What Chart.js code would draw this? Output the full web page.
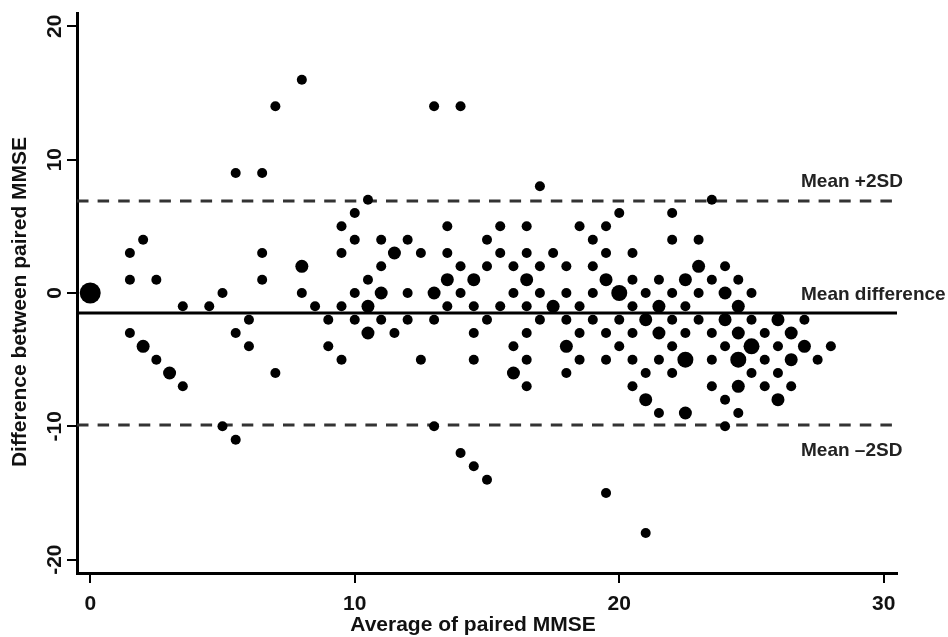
<!DOCTYPE html>
<html>
<head>
<meta charset="utf-8">
<title>Bland-Altman MMSE</title>
<script src="https://cdn.jsdelivr.net/npm/chart.js@4"></script>
<style>
  html, body { margin: 0; padding: 0; background: #fff; }
  #wrap { width: 948px; height: 637px; }
</style>
</head>
<body>
<div id="wrap"><canvas id="chart" width="948" height="637"></canvas></div>
<script>
// average of the paired MMSE scores (x)
const avg = [
  0,
  1.5, 1.5, 1.5,
  2, 2,
  2.5, 2.5,
  3,
  3.5, 3.5,
  4.5,
  5, 5,
  5.5, 5.5, 5.5,
  6, 6,
  6.5, 6.5, 6.5,
  7, 7,
  8, 8, 8,
  8.5,
  9, 9,
  9.5, 9.5, 9.5, 9.5,
  10, 10, 10, 10,
  10.5, 10.5, 10.5, 10.5,
  11, 11, 11, 11,
  11.5, 11.5,
  12, 12, 12,
  12.5, 12.5,
  13, 13, 13, 13,
  13.5, 13.5, 13.5, 13.5,
  14, 14, 14, 14,
  14.5, 14.5, 14.5, 14.5, 14.5,
  15, 15, 15, 15,
  15.5, 15.5, 15.5,
  16, 16, 16, 16,
  16.5, 16.5, 16.5, 16.5, 16.5, 16.5, 16.5,
  17, 17, 17, 17,
  17.5, 17.5,
  18, 18, 18, 18, 18,
  18.5, 18.5, 18.5, 18.5,
  19, 19, 19, 19,
  19.5, 19.5, 19.5, 19.5, 19.5, 19.5,
  20, 20, 20, 20,
  20.5, 20.5, 20.5, 20.5, 20.5, 20.5,
  21, 21, 21, 21, 21,
  21.5, 21.5, 21.5, 21.5, 21.5,
  22, 22, 22, 22, 22, 22,
  22.5, 22.5, 22.5, 22.5, 22.5,
  23, 23, 23, 23,
  23.5, 23.5, 23.5, 23.5, 23.5,
  24, 24, 24, 24, 24, 24,
  24.5, 24.5, 24.5, 24.5, 24.5, 24.5,
  25, 25, 25, 25,
  25.5, 25.5, 25.5,
  26, 26, 26, 26,
  26.5, 26.5, 26.5,
  27, 27,
  27.5,
  28
];

// difference between the paired scores (y), same order as avg
const diff = [
  0,
  3, 1, -3,
  4, -4,
  1, -5,
  -6,
  -1, -7,
  -1,
  0, -10,
  9, -3, -11,
  -2, -4,
  9, 3, 1,
  14, -6,
  16, 2, 0,
  -1,
  -2, -4,
  5, 3, -1, -5,
  6, 4, 0, -2,
  7, 1, -1, -3,
  4, 2, 0, -2,
  3, -3,
  4, 0, -2,
  3, -5,
  14, 0, -2, -10,
  5, 3, 1, -1,
  14, 2, 0, -12,
  1, -1, -3, -5, -13,
  4, 2, -2, -14,
  5, 3, -1,
  2, 0, -4, -6,
  5, 3, 1, -1, -3, -5, -7,
  8, 2, 0, -2,
  3, -1,
  2, 0, -2, -4, -6,
  5, -1, -3, -5,
  4, 2, 0, -2,
  5, 3, 1, -3, -5, -15,
  6, 0, -2, -4,
  3, 1, -1, -3, -5, -7,
  0, -2, -6, -8, -18,
  1, -1, -3, -5, -9,
  6, 4, 0, -2, -4, -6,
  1, -1, -3, -5, -9,
  4, 2, 0, -2,
  7, 1, -3, -5, -7,
  2, 0, -2, -4, -8, -10,
  1, -1, -3, -5, -7, -9,
  0, -2, -4, -6,
  -3, -5, -7,
  -2, -4, -6, -8,
  -3, -5, -7,
  -2, -4,
  -5,
  -4
];

// number of pairs sharing each point (drawn as marker size)
const count = [
  5,
  1, 1, 1,
  1, 2,
  1, 1,
  2,
  1, 1,
  1,
  1, 1,
  1, 1, 1,
  1, 1,
  1, 1, 1,
  1, 1,
  1, 2, 1,
  1,
  1, 1,
  1, 1, 1, 1,
  1, 1, 1, 1,
  1, 1, 2, 2,
  1, 1, 2, 1,
  2, 1,
  1, 1, 1,
  1, 1,
  1, 2, 1, 1,
  1, 1, 2, 1,
  1, 1, 1, 1,
  2, 1, 1, 1, 1,
  1, 1, 1, 1,
  1, 1, 1,
  1, 1, 1, 2,
  1, 1, 2, 1, 1, 1, 1,
  1, 1, 1, 1,
  1, 2,
  1, 1, 1, 2, 1,
  1, 1, 1, 1,
  1, 1, 1, 1,
  1, 1, 2, 1, 1, 1,
  1, 3, 1, 1,
  1, 1, 1, 1, 1, 1,
  1, 2, 1, 2, 1,
  1, 2, 2, 1, 1,
  1, 1, 1, 1, 1, 1,
  2, 1, 1, 3, 2,
  1, 2, 1, 1,
  1, 1, 1, 1, 1,
  1, 2, 2, 1, 1, 1,
  1, 2, 2, 3, 2, 1,
  1, 1, 3, 1,
  1, 1, 1,
  2, 1, 1, 2,
  2, 2, 1,
  1, 2,
  1,
  1
];

const meanDiff = -1.5;
const upperLimit = 6.9;
const lowerLimit = -9.9;
const limitLabels = ["Mean +2SD", "Mean difference", "Mean \u20132SD"];

const xTicks = [0, 10, 20, 30];
const yTicks = [-20, -10, 0, 10, 20];
const xMin = -0.5, xMax = 30.5;
const yMin = -21, yMax = 21;
const xTitle = "Average of paired MMSE";
const yTitle = "Difference between paired MMSE";

const FONT = "'Liberation Sans', Arial, Helvetica, sans-serif";

const points = avg.map((x, i) => ({ x: x, y: diff[i], n: count[i] }));

function hline(value) {
  return [{ x: xMin, y: value }, { x: xMax, y: value }];
}

function radiusFor(n) {
  if (n >= 5) return 10.5;
  if (n >= 3) return 8;
  if (n >= 2) return 6.5;
  return 5;
}

// labels beside the mean / limit lines, plus the two axis titles
const extraText = {
  id: "extraText",
  afterDraw(chart) {
    const { ctx, scales } = chart;
    const y = scales.y;
    const left = 801;
    ctx.save();
    ctx.font = "bold 19px " + FONT;
    ctx.fillStyle = "#222";
    ctx.textAlign = "left";
    ctx.textBaseline = "alphabetic";
    ctx.fillText(limitLabels[0], left, y.getPixelForValue(upperLimit) - 14);
    ctx.fillText(limitLabels[1], left, y.getPixelForValue(meanDiff) - 13);
    ctx.fillText(limitLabels[2], left, y.getPixelForValue(lowerLimit) + 31);

    ctx.font = "bold 21px " + FONT;
    ctx.fillStyle = "#111";
    ctx.textAlign = "center";
    ctx.textBaseline = "middle";
    ctx.fillText(xTitle, 473, 625);
    ctx.translate(20, 302);
    ctx.rotate(-Math.PI / 2);
    ctx.fillText(yTitle, 0, 0);
    ctx.restore();
  }
};

new Chart(document.getElementById("chart"), {
  type: "scatter",
  data: {
    datasets: [
      {
        label: "pairs",
        data: points,
        order: 0,
        backgroundColor: "#000",
        borderWidth: 0,
        pointRadius: (c) => radiusFor(c.raw ? c.raw.n : 1),
        pointHoverRadius: (c) => radiusFor(c.raw ? c.raw.n : 1)
      },
      {
        type: "line",
        label: "mean",
        data: hline(meanDiff),
        order: 1,
        borderColor: "#000",
        borderWidth: 3,
        pointRadius: 0,
        fill: false
      },
      {
        type: "line",
        label: "upper",
        data: hline(upperLimit),
        order: 1,
        borderColor: "#333",
        borderWidth: 3,
        borderDash: [11.5, 9.1],
        pointRadius: 0,
        fill: false
      },
      {
        type: "line",
        label: "lower",
        data: hline(lowerLimit),
        order: 1,
        borderColor: "#333",
        borderWidth: 3,
        borderDash: [11.5, 9.1],
        pointRadius: 0,
        fill: false
      }
    ]
  },
  options: {
    responsive: false,
    animation: false,
    devicePixelRatio: 1,
    layout: { padding: { top: 13, right: 51, left: 0, bottom: 0 } },
    plugins: { legend: { display: false }, tooltip: { enabled: false } },
    scales: {
      x: {
        type: "linear",
        min: xMin,
        max: xMax,
        afterBuildTicks: (s) => { s.ticks = xTicks.map(v => ({ value: v })); },
        afterFit: (s) => { s.height = 64; },
        border: { display: true, color: "#000", width: 3 },
        grid: { drawOnChartArea: false, drawTicks: true, tickLength: 10, color: "#000", lineWidth: 2 },
        ticks: { color: "#111", padding: 9, font: { family: FONT, size: 21, weight: "bold" } }
      },
      y: {
        type: "linear",
        min: yMin,
        max: yMax,
        afterBuildTicks: (s) => { s.ticks = yTicks.map(v => ({ value: v })); },
        afterFit: (s) => { s.width = 77; },
        border: { display: true, color: "#000", width: 3 },
        grid: { drawOnChartArea: false, drawTicks: true, tickLength: 10, color: "#000", lineWidth: 2 },
        ticks: {
          color: "#111",
          padding: -3,
          minRotation: 90,
          maxRotation: 90,
          crossAlign: "center",
          font: { family: FONT, size: 21, weight: "bold" }
        }
      }
    }
  },
  plugins: [extraText]
});
</script>
</body>
</html>
